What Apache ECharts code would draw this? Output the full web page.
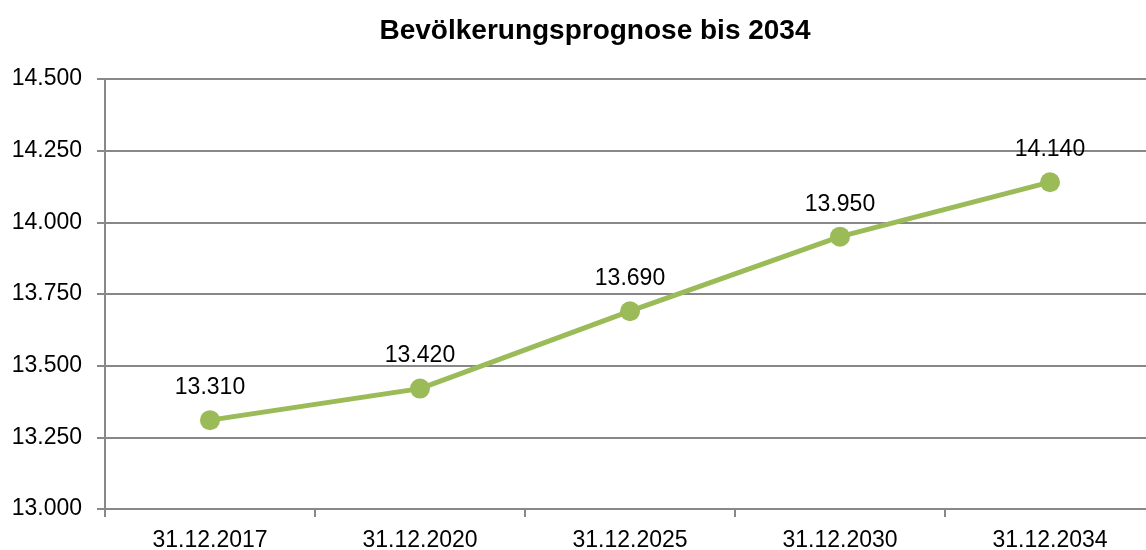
<!DOCTYPE html>
<html>
<head>
<meta charset="utf-8">
<script src="https://cdn.jsdelivr.net/npm/echarts@6/dist/echarts.min.js"></script>
<style>
  html, body { margin: 0; padding: 0; background: #fff; }
  #chart { width: 1146px; height: 550px; }
</style>
</head>
<body>
<div id="chart"></div>
<script>
var categories = ['31.12.2017', '31.12.2020', '31.12.2025', '31.12.2030', '31.12.2034'];
var population = [13310, 13420, 13690, 13950, 14140];

function fmt(v) {
  var r = String(v % 1000);
  while (r.length < 3) r = '0' + r;
  return Math.floor(v / 1000) + '.' + r;
}

var option = {
  backgroundColor: '#fff',
  animation: false,
  title: {
    text: 'Bevölkerungsprognose bis 2034',
    left: 590,
    top: 12,
    textAlign: 'center',
    textStyle: {
      fontFamily: 'Liberation Sans, Arial, sans-serif',
      fontSize: 28,
      fontWeight: 'bold',
      color: '#000'
    }
  },
  grid: {
    left: 105,
    top: 79,
    width: 1050,
    height: 430,
    outerBoundsMode: 'none',
    containLabel: false
  },
  xAxis: {
    type: 'category',
    data: categories,
    boundaryGap: true,
    axisLine: { lineStyle: { color: '#888', width: 2 } },
    axisTick: { show: true, length: 8, lineStyle: { color: '#888', width: 2 } },
    axisLabel: {
      margin: 20,
      fontFamily: 'Liberation Sans, Arial, sans-serif',
      fontSize: 23,
      color: '#000'
    },
    splitLine: { show: false }
  },
  yAxis: {
    type: 'value',
    min: 13000,
    max: 14500,
    interval: 250,
    axisLine: { show: true, lineStyle: { color: '#888', width: 2 } },
    axisTick: { show: true, length: 8, lineStyle: { color: '#888', width: 2 } },
    axisLabel: {
      margin: 23,
      formatter: fmt,
      fontFamily: 'Liberation Sans, Arial, sans-serif',
      fontSize: 23,
      color: '#000'
    },
    splitLine: { show: true, lineStyle: { color: '#888', width: 2 } }
  },
  series: [
    {
      type: 'line',
      data: population,
      symbol: 'circle',
      symbolSize: 20,
      itemStyle: { color: '#9BBB59' },
      lineStyle: { color: '#9BBB59', width: 5 },
      label: {
        show: true,
        position: 'top',
        distance: 11,
        formatter: function (p) { return fmt(p.value); },
        fontFamily: 'Liberation Sans, Arial, sans-serif',
        fontSize: 23,
        color: '#000'
      }
    }
  ]
};

var chart = echarts.init(document.getElementById('chart'));
chart.setOption(option);
</script>
</body>
</html>
